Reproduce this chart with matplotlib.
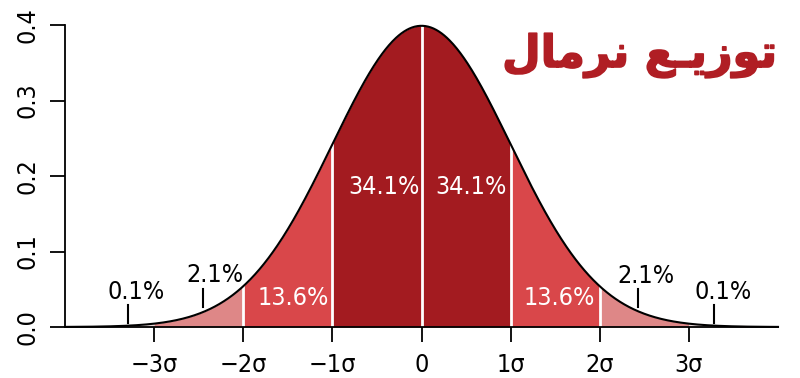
import numpy as np
import matplotlib
matplotlib.use("Agg")
import matplotlib.pyplot as plt
import matplotlib.patheffects as pe

# ---- data ----
mu, sigma = 0.0, 1.0
bounds = [-4, -3, -2, -1, 0, 1, 2, 3, 4]
region_colors = ["#e6d6d6", "#de8787", "#d9474a", "#a31b20", "#a31b20", "#d9474a", "#de8787", "#e6d6d6"]
x_ticks = [-3, -2, -1, 0, 1, 2, 3]
x_ticklabels = ["\u22123\u03c3", "\u22122\u03c3", "\u22121\u03c3", "0", "1\u03c3", "2\u03c3", "3\u03c3"]
y_ticks = [0.0, 0.1, 0.2, 0.3, 0.4]
y_ticklabels = ["0.0", "0.1", "0.2", "0.3", "0.4"]

inner_labels = ["13.6%", "34.1%", "34.1%", "13.6%"]
inner_x = [-1.44, -0.42, 0.555, 1.55]
inner_y = [0.038, 0.185, 0.185, 0.038]

outer_labels = ["0.1%", "2.1%", "2.1%", "0.1%"]
outer_x = [-3.2, -2.32, 2.52, 3.38]
outer_y = [0.046, 0.069, 0.067, 0.046]
pointer_x = [-3.29, -2.45, 2.43, 3.28]
pointer_y0 = [0.005, 0.027, 0.027, 0.005]
pointer_y1 = [0.029, 0.050, 0.050, 0.029]

separators = [-2, -1, 0, 1, 2]

# Persian title "توزیع نرمال", pre-shaped (presentation forms, visual order)
title = "\uFEDD\uFE8E\uFEE3\uFEAE\uFEE7 \uFECA\u0640\uFEF3\uFEAF\uFEEE\uFE97"
title_color = "#b01e24"

FONT = dict(family="DejaVu Sans", fontstretch="condensed")
FS = 18


def pdf(x):
    return np.exp(-0.5 * ((x - mu) / sigma) ** 2) / (sigma * np.sqrt(2 * np.pi))


fig = plt.figure(figsize=(8, 3.78), dpi=100)
ax = fig.add_axes([65 / 800, 1 - 327 / 378, (778 - 65) / 800, (327 - 25) / 378])

for i in range(len(bounds) - 1):
    xs = np.linspace(bounds[i], bounds[i + 1], 200)
    ax.fill_between(xs, 0, pdf(xs), color=region_colors[i], lw=0)

for s in separators:
    ax.plot([s, s], [0, pdf(s)], color="white", lw=2)

xx = np.linspace(bounds[0], bounds[-1], 800)
ax.plot(xx, pdf(xx), color="black", lw=1.5, clip_on=False)

for t, x, y in zip(inner_labels, inner_x, inner_y):
    ax.text(x, y, t, color="white", fontsize=FS, ha="center", va="center", **FONT)
for t, x, y in zip(outer_labels, outer_x, outer_y):
    ax.text(x, y, t, color="black", fontsize=FS, ha="center", va="center", **FONT)
for x, y0, y1 in zip(pointer_x, pointer_y0, pointer_y1):
    ax.plot([x, x], [y0, y1], color="black", lw=1.5)

ax.set_xlim(-4, 4)
ax.set_ylim(0, 0.4)
ax.set_xticks(x_ticks)
ax.set_xticklabels(x_ticklabels, fontsize=FS, **FONT)
ax.set_yticks(y_ticks)
ax.set_yticklabels(y_ticklabels, fontsize=FS, rotation=90, va="center", **FONT)
ax.tick_params(axis="both", direction="out", length=11, width=1.3, colors="black")
ax.tick_params(axis="x", pad=8)
ax.tick_params(axis="y", pad=7)
for side in ["top", "right"]:
    ax.spines[side].set_visible(False)
for side in ["left", "bottom"]:
    ax.spines[side].set_linewidth(1.3)

fig.text(640 / 800, 1 - 67 / 378, title, color=title_color, fontsize=32,
         fontweight="bold", family=["DejaVu Sans"], ha="center", va="baseline",
         path_effects=[pe.withStroke(linewidth=1.2, foreground=title_color)])

fig.savefig("out.png", dpi=100)
